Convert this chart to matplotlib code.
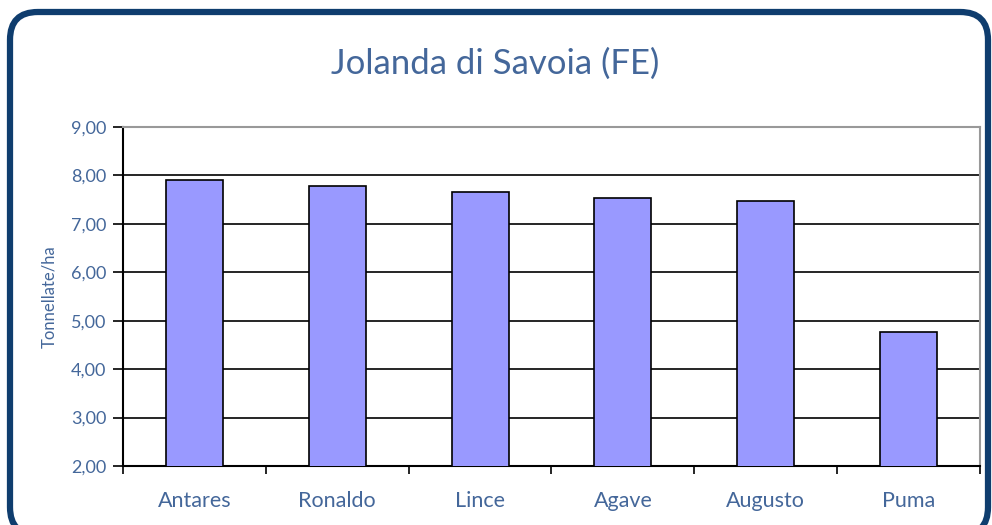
import matplotlib
matplotlib.use('Agg')
import matplotlib.pyplot as plt
from matplotlib.patches import FancyBboxPatch
from matplotlib.ticker import FixedLocator, FuncFormatter

# Data
varieties = ['Antares', 'Ronaldo', 'Lince', 'Agave', 'Augusto', 'Puma']
yields = [7.91, 7.78, 7.66, 7.53, 7.47, 4.77]

text_col = '#44679A'
plt.rcParams['font.family'] = ['Lato', 'DejaVu Sans']

fig = plt.figure(figsize=(9.92, 5.25), dpi=100)

# Rounded frame around the chart (bottom edge runs just off the picture)
frame = FancyBboxPatch((10 / 992, -10 / 525), 978 / 992, (513 + 10) / 525,
                       boxstyle='round,pad=0,rounding_size=0.028',
                       transform=fig.transFigure, fill=False,
                       edgecolor='#0F3D6E', linewidth=4.5, mutation_aspect=992 / 525)
fig.patches.append(frame)

ax = fig.add_axes([123 / 992, (525 - 466) / 525, (980 - 123) / 992, (466 - 127) / 525])
x = range(len(varieties))
ax.bar(x, yields, width=0.4, color='#9999FF', edgecolor='black', linewidth=1.2, zorder=3)

ax.set_ylim(2, 9)
ax.set_xlim(-0.5, len(varieties) - 0.5)
ax.set_yticks([2, 3, 4, 5, 6, 7, 8, 9])
ax.yaxis.set_major_formatter(FuncFormatter(lambda v, p: f'{v:.2f}'.replace('.', ',')))
ax.grid(axis='y', color='black', linewidth=1.2, zorder=0)

# category labels centred, ticks between categories
ax.xaxis.set_major_locator(FixedLocator([i - 0.5 for i in range(len(varieties) + 1)]))
ax.xaxis.set_major_formatter(FuncFormatter(lambda v, p: ''))
ax.xaxis.set_minor_locator(FixedLocator(list(x)))
ax.set_xticklabels(varieties, minor=True)
ax.tick_params(axis='x', which='minor', length=0, pad=18, labelsize=15.5, labelcolor=text_col)
ax.tick_params(axis='x', which='major', length=6, width=1.2, direction='out')
ax.tick_params(axis='y', length=7, width=1.2, labelsize=13, labelcolor=text_col, pad=5)

for s in ['left', 'bottom']:
    ax.spines[s].set_linewidth(1.5)
for s in ['top', 'right']:
    ax.spines[s].set_color('#999999')
    ax.spines[s].set_linewidth(1.5)

ax.set_ylabel('Tonnellate/ha', fontsize=12, color=text_col, labelpad=10)
fig.suptitle('Jolanda di Savoia (FE)', x=495 / 992, y=(525 - 64) / 525, va='center',
             fontsize=25, color=text_col)

fig.savefig('out.png', dpi=100)
